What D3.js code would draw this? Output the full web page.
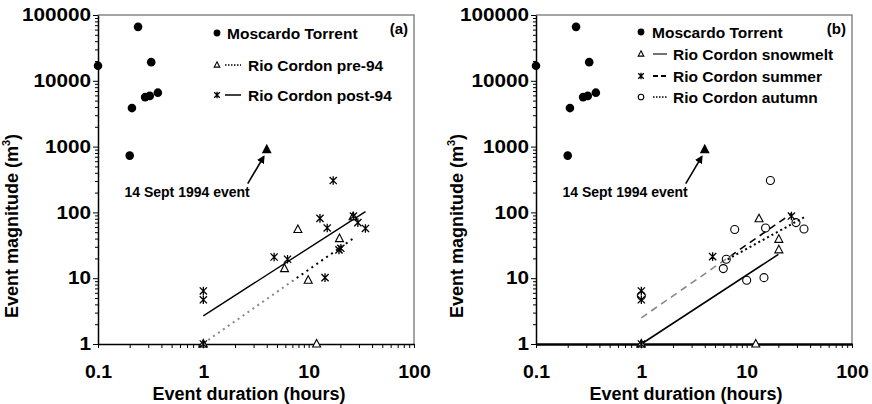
<!DOCTYPE html>
<html>
<head>
<meta charset="utf-8">
<script src="https://cdn.jsdelivr.net/npm/d3@7"></script>
<style>
  body { margin: 0; background: #fff; }
  svg text { font-family: "Liberation Sans", Arial, sans-serif; font-weight: bold; }
</style>
</head>
<body>
<div id="chart"></div>
<script>
//-- Data --//
var xTicks = [0.1, 1, 10, 100],
    yTicks = [1, 10, 100, 1000, 10000, 100000];

var moscardoDur = [0.1, 0.2, 0.21, 0.24, 0.28, 0.31, 0.32, 0.37],
    moscardoVol = [16900, 730, 3850, 66000, 5650, 5900, 19200, 6600];

var eventDur = [4.0], eventVol = [900];

// panel (a)
var pre94Dur = [1, 5.9, 7.9, 9.9, 11.9, 19.6, 26.4],
    pre94Vol = [1, 14, 55, 9.3, 1, 40, 86];
var post94Dur = [1, 1, 1, 4.7, 6.3, 12.8, 14.3, 15, 17.1, 19.4, 20.2, 26.6, 29.3, 34.6],
    post94Vol = [6.4, 4.7, 1, 21, 19.4, 81, 10.2, 58, 305, 27, 28.5, 88, 70, 57];
var pre94FitDur = [1, 26.4], pre94FitVol = [1.02, 40];
var post94FitDur = [1, 34.6], post94FitVol = [2.68, 103];

// panel (b)
var snowDur = [1, 12.2, 13.1, 20.2, 20.2],
    snowVol = [1, 1, 80, 39, 27];
var summerDur = [1, 1, 1, 4.75, 26.6],
    summerVol = [6.4, 4.7, 1, 21.3, 88];
var autumnDur = [1, 6.0, 6.4, 7.7, 10, 14.6, 15.1, 16.8, 29.4, 35],
    autumnVol = [5.4, 14, 19.4, 55, 9.3, 10.2, 58, 305, 70, 56];
var snowFitDur = [1, 20], snowFitVol = [1, 23];
var summerFitDur = [1, 27], summerFitVol = [2.5, 97];
var autumnFitDur = [6.6, 36], autumnFitVol = [19.4, 86];

function zip(xs, ys) { return xs.map(function(x, i) { return [x, ys[i]]; }); }

//-- SVG --//
var svg = d3.select("#chart").append("svg")
  .attr("width", 872).attr("height", 404);

var defs = svg.append("defs");
defs.append("marker")
  .attr("id", "arrow").attr("viewBox", "0 0 10 10")
  .attr("refX", 8).attr("refY", 5)
  .attr("markerWidth", 5).attr("markerHeight", 5)
  .attr("orient", "auto")
  .append("path").attr("d", "M0,0L10,5L0,10z").attr("fill", "#000");

// widen tick labels a little (the original digits are wide)
function stretch(sel, k) {
  sel.each(function() {
    var len = this.getComputedTextLength();
    d3.select(this).attr("textLength", len * k).attr("lengthAdjust", "spacingAndGlyphs");
  });
}

//-- Markers --//
function drawMarker(g, type, x, y, s) {
  if (type == "dot") {
    g.append("circle").attr("cx", x).attr("cy", y).attr("r", s).attr("fill", "#000");
  } else if (type == "circle") {
    g.append("circle").attr("cx", x).attr("cy", y).attr("r", s)
      .attr("fill", "none").attr("stroke", "#000").attr("stroke-width", 1.1);
  } else if (type == "tri" || type == "ftri") {
    var h = s * 1.9;
    g.append("path")
      .attr("d", "M" + x + "," + (y - h * 0.6) + "L" + (x + s) + "," + (y + h * 0.4) + "L" + (x - s) + "," + (y + h * 0.4) + "Z")
      .attr("fill", type == "ftri" ? "#000" : "#fff")
      .attr("stroke", "#000").attr("stroke-width", 1.1);
  } else if (type == "star") {
    g.append("path")
      .attr("d", "M" + (x - s) + "," + (y - s) + "L" + (x + s) + "," + (y + s) +
                 "M" + (x - s) + "," + (y + s) + "L" + (x + s) + "," + (y - s) +
                 "M" + x + "," + (y - s * 1.2) + "L" + x + "," + (y + s * 1.2))
      .attr("stroke", "#000").attr("stroke-width", 1.3).attr("fill", "none");
  }
}

function panel(opt) {
  var left = opt.left, top = 15, w = 316, h = 329;
  var x = d3.scaleLog().domain([0.1, 100]).range([left, left + w]);
  var y = d3.scaleLog().domain([1, 100000]).range([top + h, top]);
  var g = svg.append("g");

  // top/right frame (grey)
  g.append("path")
    .attr("d", "M" + left + "," + top + "H" + (left + w) + "V" + (top + h))
    .attr("fill", "none").attr("stroke", "#888").attr("stroke-width", 1.5);

  // minor ticks
  var minorY = [], minorX = [];
  for (var d = 1; d < 100000; d *= 10) for (var k = 2; k < 10; k++) minorY.push(d * k);
  for (var d2 = 0.1; d2 < 99; d2 *= 10) for (var k2 = 2; k2 < 10; k2++) minorX.push(d2 * k2);

  g.append("g").attr("transform", "translate(" + left + ",0)")
    .call(d3.axisLeft(y).tickValues(minorY).tickSize(3).tickFormat(""))
    .call(function(a) { a.select(".domain").remove(); a.selectAll("line").attr("stroke-width", 1); });
  g.append("g").attr("transform", "translate(0," + (top + h) + ")")
    .call(d3.axisBottom(x).tickValues(minorX).tickSize(4).tickFormat(""))
    .call(function(a) { a.select(".domain").remove(); a.selectAll("line").attr("stroke-width", 1); });

  // major axes
  var yAx = g.append("g").attr("transform", "translate(" + left + ",0)")
    .call(d3.axisLeft(y).tickValues(yTicks).tickSize(5).tickPadding(2).tickSizeOuter(0).tickFormat(d3.format("d")));
  yAx.select(".domain").attr("stroke-width", 1.5);
  yAx.selectAll("text").attr("font-size", 18).attr("fill", "#000").call(stretch, 1.15);

  var xAx = g.append("g").attr("transform", "translate(0," + (top + h) + ")")
    .call(d3.axisBottom(x).tickValues(xTicks).tickSize(4).tickPadding(17).tickSizeOuter(0)
      .tickFormat(function(d) { return d < 1 ? "0.1" : d3.format("d")(d); }));
  xAx.select(".domain").attr("stroke-width", opt.thickBottom ? 2.6 : 1.5);
  xAx.selectAll("text").attr("font-size", 18).attr("fill", "#000").call(stretch, 1.08);
  g.selectAll(".tick line").attr("stroke", "#000");

  // axis titles
  g.append("text").attr("x", opt.xTitleX).attr("y", 400)
    .attr("text-anchor", "middle").attr("font-size", 18).text("Event duration (hours)");
  var yt = g.append("text").attr("transform", "translate(" + (left + opt.yTitleDx) + ",226) rotate(-90)")
    .attr("text-anchor", "middle").attr("font-size", 18);
  yt.append("tspan").text("Event magnitude (m");
  yt.append("tspan").attr("font-size", 11).attr("dy", -8).text("3");
  yt.append("tspan").attr("dy", 8).text(")");

  // fit lines
  var line = d3.line().x(function(d) { return x(d[0]); }).y(function(d) { return y(d[1]); });
  opt.fits.forEach(function(f, i) {
    var stroke = f.color;
    if (f.fade) {
      var id = "grad" + opt.id + i;
      var lg = defs.append("linearGradient").attr("id", id)
        .attr("gradientUnits", "userSpaceOnUse")
        .attr("x1", x(f.dur[0])).attr("x2", x(f.dur[1])).attr("y1", 0).attr("y2", 0);
      var cut = (Math.log(f.fade) - Math.log(f.dur[0])) / (Math.log(f.dur[1]) - Math.log(f.dur[0]));
      lg.append("stop").attr("offset", 0).attr("stop-color", "#888");
      lg.append("stop").attr("offset", cut).attr("stop-color", "#888");
      lg.append("stop").attr("offset", cut + 0.02).attr("stop-color", "#000");
      lg.append("stop").attr("offset", 1).attr("stop-color", "#000");
      stroke = "url(#" + id + ")";
    }
    g.append("path").datum(zip(f.dur, f.vol))
      .attr("d", line).attr("fill", "none")
      .attr("stroke", stroke).attr("stroke-width", f.width)
      .attr("stroke-dasharray", f.dash);
  });

  // points
  opt.series.forEach(function(s) {
    zip(s.dur, s.vol).forEach(function(p) { drawMarker(g, s.type, x(p[0]), y(p[1]), s.size); });
  });
  zip(moscardoDur, moscardoVol).forEach(function(p) { drawMarker(g, "dot", x(p[0]), y(p[1]), 4.3); });

  // 14 Sept 1994 event
  var ex = x(eventDur[0]), ey = y(eventVol[0]);
  drawMarker(g, "ftri", ex, ey, 4);
  g.append("line").attr("x1", ex - 19).attr("y1", ey + 34).attr("x2", ex - 3).attr("y2", ey + 7)
    .attr("stroke", "#000").attr("stroke-width", 1.6).attr("marker-end", "url(#arrow)");
  g.append("text").attr("x", ex - 17).attr("y", ey + 47).attr("text-anchor", "end")
    .attr("font-size", 14).text("14 Sept 1994 event");

  // panel label
  g.append("text").attr("x", left + w - 6).attr("y", 34).attr("text-anchor", "end")
    .attr("font-size", 15).text(opt.label);

  // legend
  opt.legend.forEach(function(l, i) {
    var ly = opt.legY[i];
    drawMarker(g, l.type, opt.legX, ly, l.type == "dot" ? 3.4 : 2.8);
    if (l.line) {
      g.append("line").attr("x1", opt.legX + opt.legLine[0]).attr("x2", opt.legX + opt.legLine[1])
        .attr("y1", ly).attr("y2", ly)
        .attr("stroke", l.color || "#000").attr("stroke-width", l.width || 1.5)
        .attr("stroke-dasharray", l.dash);
    }
    g.append("text").attr("x", opt.legX + (l.line ? opt.legText : opt.legDotText)).attr("y", ly + 5.5)
      .attr("font-size", 15.5).text(l.name);
  });
}

panel({
  id: "a", left: 98, label: "(a)", xTitleX: 249, yTitleDx: -80, thickBottom: false,
  series: [
    {type: "tri", dur: pre94Dur, vol: pre94Vol, size: 4},
    {type: "star", dur: post94Dur, vol: post94Vol, size: 3.6}
  ],
  fits: [
    {dur: post94FitDur, vol: post94FitVol, color: "#000", width: 1.4, dash: null},
    {dur: pre94FitDur, vol: pre94FitVol, color: "#000", width: 2, dash: "2,4", fade: 7}
  ],
  legX: 217, legY: [33, 65, 95], legLine: [8, 24], legText: 31, legDotText: 10,
  legend: [
    {type: "dot", name: "Moscardo Torrent", line: false},
    {type: "tri", name: "Rio Cordon pre-94", line: true, dash: "1.5,1.5", width: 1.5},
    {type: "star", name: "Rio Cordon post-94", line: true, dash: null, width: 1.5}
  ]
});

panel({
  id: "b", left: 536, label: "(b)", xTitleX: 686, yTitleDx: -73, thickBottom: true,
  series: [
    {type: "tri", dur: snowDur, vol: snowVol, size: 4},
    {type: "circle", dur: autumnDur, vol: autumnVol, size: 4},
    {type: "star", dur: summerDur, vol: summerVol, size: 3.6}
  ],
  fits: [
    {dur: snowFitDur, vol: snowFitVol, color: "#000", width: 1.6, dash: null},
    {dur: summerFitDur, vol: summerFitVol, color: "#000", width: 1.6, dash: "7,5", fade: 7},
    {dur: autumnFitDur, vol: autumnFitVol, color: "#000", width: 2, dash: "2,3"}
  ],
  legX: 641, legY: [32, 54, 76, 97], legLine: [12, 26], legText: 32, legDotText: 11,
  legend: [
    {type: "dot", name: "Moscardo Torrent", line: false},
    {type: "tri", name: "Rio Cordon snowmelt", line: true, dash: null, color: "#444", width: 1.5},
    {type: "star", name: "Rio Cordon summer", line: true, dash: "5,3", width: 2},
    {type: "circle", name: "Rio Cordon autumn", line: true, dash: "1.5,1.5", width: 1.5}
  ]
});
</script>
</body>
</html>
